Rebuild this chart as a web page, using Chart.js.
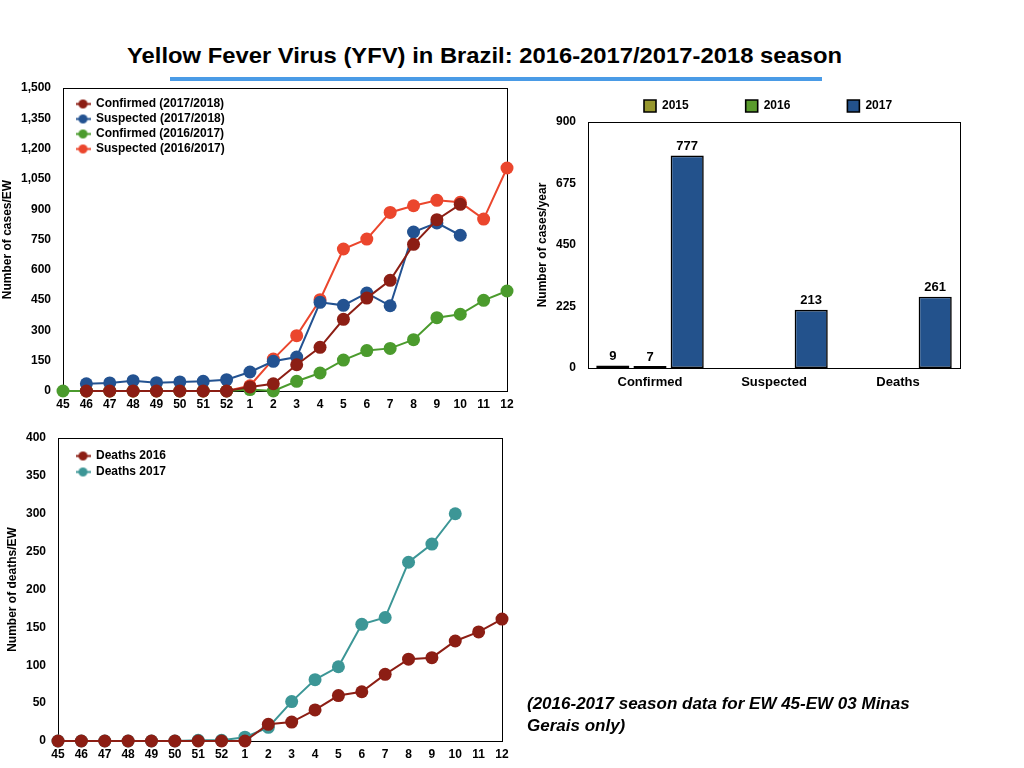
<!DOCTYPE html>
<html>
<head>
<meta charset="utf-8">
<script src="https://cdn.jsdelivr.net/npm/chart.js@4/dist/chart.umd.min.js"></script>
<style>
html,body{margin:0;padding:0;background:#fff;width:1024px;height:768px;overflow:hidden;font-family:"Liberation Sans",Arial,Helvetica,sans-serif;}
.abs{position:absolute;}
#title{left:127px;top:43px;font-size:22px;line-height:26px;font-weight:bold;color:#000;white-space:nowrap;transform-origin:0 0;}
#rule{left:170px;top:77px;width:652px;height:4px;background:#4a9be6;}
#note{left:527px;top:693px;font-size:17px;line-height:22px;font-weight:bold;font-style:italic;color:#000;width:440px;}
canvas{position:absolute;}
</style>
</head>
<body>
<div id="title" class="abs">Yellow Fever Virus (YFV) in Brazil: 2016-2017/2017-2018 season</div>
<div id="rule" class="abs"></div>
<canvas id="cases" width="530" height="335" style="left:0px;top:80px;"></canvas>
<canvas id="bars" width="494" height="310" style="left:530px;top:90px;"></canvas>
<canvas id="deaths" width="530" height="338" style="left:0px;top:430px;"></canvas>
<div id="note" class="abs">(2016-2017 season data for EW 45-EW 03 Minas Gerais only)</div>
<script>
// ---------- DATA ----------
const weeks = ['45','46','47','48','49','50','51','52','1','2','3','4','5','6','7','8','9','10','11','12'];
const confirmed1718 = [null,0,0,0,0,0,0,0,20,36,130,216,355,460,548,726,848,924,null,null];
const suspected1718 = [null,36,40,51,41,45,48,56,94,147,168,439,424,485,422,787,832,771,null,null];
const confirmed1617 = [0,0,0,0,0,0,0,0,7,0,48,89,153,200,211,254,363,380,449,495];
const suspected1617 = [null,0,0,0,0,0,0,0,26,158,274,452,703,752,884,917,944,934,851,1104];
const casesTicks = [0,150,300,450,600,750,900,1050,1200,1350,1500];

const barCategories = ['Confirmed','Suspected','Deaths'];
const year2015 = [9,null,null];
const year2016 = [7,null,null];
const year2017 = [777,213,261];
const barTicks = [0,225,450,675,900];

const deaths2016 = [0,0,0,0,0,0,0,0,0,22,25,41,60,65,88,108,110,132,144,161];
const deaths2017 = [0,0,0,0,0,0,1,1,5,18,52,81,98,154,163,236,260,300,null,null];
const deathTicks = [0,50,100,150,200,250,300,350,400];

// ---------- STYLE ----------
const C = {
  darkRed:'rgb(140,30,20)', blue:'rgb(35,82,145)', green:'rgb(75,155,45)', orange:'rgb(235,70,45)', teal:'rgb(60,150,150)',
  y2015:'rgb(150,150,45)', y2016:'rgb(90,155,45)', y2017:'rgb(35,82,140)'
};
Chart.defaults.font.family = '"Liberation Sans", Arial, Helvetica, sans-serif';
Chart.defaults.font.weight = 'bold';
Chart.defaults.font.size = 12;
Chart.defaults.color = '#000';
Chart.defaults.animation = false;

function markerImg(color){
  const c = document.createElement('canvas');
  c.width = 15; c.height = 11;
  const g = c.getContext('2d');
  g.strokeStyle = color; g.lineWidth = 2;
  g.beginPath(); g.moveTo(0,5.5); g.lineTo(15,5.5); g.stroke();
  g.fillStyle = color; g.beginPath(); g.arc(7.5,5.5,4.5,0,Math.PI*2); g.fill();
  return c;
}
const plotBox = {
  id:'plotBox',
  beforeDatasetsDraw(chart){
    const {ctx, chartArea:a} = chart;
    ctx.save(); ctx.strokeStyle = '#000'; ctx.lineWidth = 1;
    ctx.strokeRect(Math.round(a.left)+0.5, Math.round(a.top)+0.5, Math.round(a.right-a.left), Math.round(a.bottom-a.top));
    ctx.restore();
  }
};
function legendShift(dx,dy){
  return { id:'legendShift', afterLayout(chart){ if(chart.legend){ chart.legend.left += dx; chart.legend.top += dy; } } };
}
function lineDs(label, data, color){
  return { label, data, borderColor: color, backgroundColor: color, pointBackgroundColor: color, pointBorderColor: color,
    borderWidth: 2, pointRadius: 6.5, pointBorderWidth: 0, pointHoverRadius: 6.5, clip: false, tension: 0, spanGaps: false };
}
function lineLegend(padding){
  return {
    position:'chartArea', align:'start',
    labels:{
      usePointStyle:true, pointStyleWidth:14, padding: padding,
      font:{size:12, weight:'bold'}, color:'#000',
      generateLabels(chart){
        const items = Chart.defaults.plugins.legend.labels.generateLabels(chart);
        items.forEach(it => { it.pointStyle = markerImg(chart.data.datasets[it.datasetIndex].borderColor); });
        return items;
      }
    }
  };
}
function yAxis(max, step, ticksArr, title, width, titlePad){
  return {
    min:0, max:max,
    afterFit(s){ s.width = width; s.paddingTop = 0; s.paddingBottom = 0; },
    afterBuildTicks(s){ s.ticks = ticksArr.map(v => ({value:v})); },
    grid:{display:false, drawTicks:false}, border:{display:false},
    ticks:{ padding:12, font:{size:12, weight:'bold'}, color:'#000', stepSize: step },
    title:{ display:true, text:title, font:{size:12, weight:'bold'}, color:'#000', padding:{top:titlePad, bottom:0} }
  };
}
function xAxis(height, pad, fontSize){
  return {
    afterFit(s){ s.height = height; },
    grid:{display:false, drawTicks:false}, border:{display:false},
    ticks:{ padding:pad, autoSkip:false, maxRotation:0, minRotation:0, font:{size:fontSize, weight:'bold'}, color:'#000' }
  };
}

// ---------- CHART 1: cases per EW ----------
new Chart(document.getElementById('cases'), {
  type:'line',
  data:{ labels: weeks, datasets:[
    lineDs('Confirmed (2017/2018)', confirmed1718, C.darkRed),
    lineDs('Suspected (2017/2018)', suspected1718, C.blue),
    lineDs('Confirmed (2016/2017)', confirmed1617, C.green),
    lineDs('Suspected (2016/2017)', suspected1617, C.orange)
  ]},
  options:{
    responsive:false, maintainAspectRatio:false,
    layout:{ padding:{ top:8, right:23, left:0, bottom:0 } },
    plugins:{ legend: lineLegend(3), tooltip:{enabled:false} },
    scales:{ x: xAxis(24, 6, 12), y: yAxis(1500, 150, casesTicks, 'Number of cases/EW', 63, 0) }
  },
  plugins:[plotBox, legendShift(10, 15)]
});

// ---------- CHART 2: cases per year ----------
const barLabels = {
  id:'barLabels',
  afterDatasetsDraw(chart){
    const ctx = chart.ctx;
    ctx.save(); ctx.font = 'bold 13px "Liberation Sans", Arial, sans-serif'; ctx.fillStyle = '#000';
    ctx.textAlign = 'center'; ctx.textBaseline = 'middle';
    chart.data.datasets.forEach((ds,i) => {
      chart.getDatasetMeta(i).data.forEach((bar,j) => {
        const v = ds.data[j]; if (v == null) return;
        ctx.fillText(String(v), bar.x, bar.y - 9);
      });
    });
    ctx.restore();
  }
};
function barDs(label, data, color){
  return { label, data, backgroundColor: color, borderColor:'#000', borderWidth:1.6, borderSkipped:false,
    categoryPercentage:0.9, barPercentage:0.89 };
}
new Chart(document.getElementById('bars'), {
  type:'bar',
  data:{ labels: barCategories, datasets:[
    barDs('2015', year2015, C.y2015),
    barDs('2016', year2016, C.y2016),
    barDs('2017', year2017, C.y2017)
  ]},
  options:{
    responsive:false, maintainAspectRatio:false,
    layout:{ padding:{ top:-47, right:64, left:0, bottom:0 } },
    plugins:{
      legend:{ position:'top', align:'start', labels:{ boxWidth:12, boxHeight:12, padding:57, font:{size:12, weight:'bold'}, color:'#000' } },
      tooltip:{enabled:false}
    },
    scales:{ x: xAxis(32, 7, 13), y: yAxis(900, 225, barTicks, 'Number of cases/year', 58, 5) }
  },
  plugins:[plotBox, barLabels, legendShift(57, 0)]
});

// ---------- CHART 3: deaths per EW ----------
new Chart(document.getElementById('deaths'), {
  type:'line',
  data:{ labels: weeks, datasets:[
    lineDs('Deaths 2016', deaths2016, C.darkRed),
    lineDs('Deaths 2017', deaths2017, C.teal)
  ]},
  options:{
    responsive:false, maintainAspectRatio:false,
    layout:{ padding:{ top:8, right:28, left:0, bottom:0 } },
    plugins:{ legend: lineLegend(4), tooltip:{enabled:false} },
    scales:{ x: xAxis(27, 6, 12), y: yAxis(400, 50, deathTicks, 'Number of deaths/EW', 58, 5) }
  },
  plugins:[plotBox, legendShift(14, 16)]
});

// ---------- title width fit ----------
function fitTitle(){
  const t = document.getElementById('title');
  t.style.transform = 'none';
  const w = t.getBoundingClientRect().width;
  if (w > 0) t.style.transform = 'scaleX(' + (715 / w) + ')';
}
fitTitle();
if (document.fonts && document.fonts.ready) document.fonts.ready.then(fitTitle);
</script>
</body>
</html>
